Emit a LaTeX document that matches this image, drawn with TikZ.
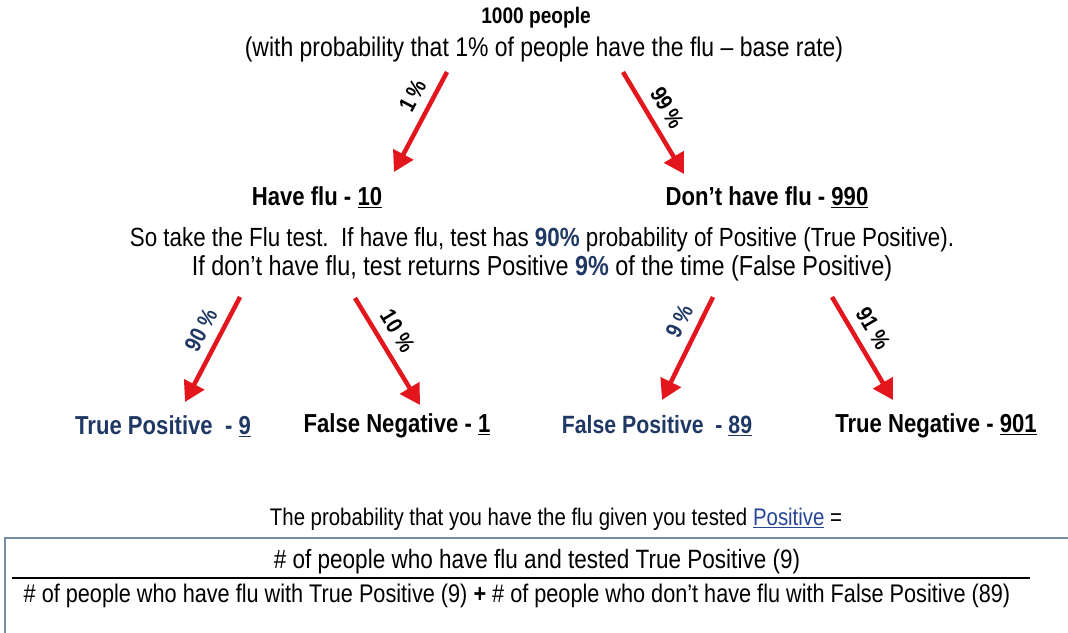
\documentclass[tikz,border=0pt]{standalone}
\usepackage{fontspec}
\setmainfont[FakeStretch=0.85]{Liberation Sans}
\usetikzlibrary{arrows.meta}
\definecolor{arrred}{RGB}{226,22,28}
\definecolor{navy}{RGB}{31,56,100}
\definecolor{linkblue}{RGB}{40,70,150}
\definecolor{boxedge}{RGB}{120,140,165}
\newcommand{\fs}[1]{\fontsize{#1}{#1}\selectfont}
\begin{document}
\begin{tikzpicture}[x=1pt,y=-1pt,
  txt/.style={inner sep=0pt, font=\fs{26}},
  head/.style={inner sep=0pt, font=\fs{26}\bfseries},
  flow/.style={draw=arrred, line width=4.5pt, -{Triangle[length=20pt,width=22pt]}},
  pct/.style={sloped, above=9pt, pos=0.4, inner sep=0pt, font=\fs{23}\bfseries},
]
\useasboundingbox[fill=white] (0,0) rectangle (1068,632);

\node[head, font=\fs{22.5}\bfseries] (top) at (536,18) {1000 people};
\node[txt, font=\fs{27}] (sub) at (544,50) {(with probability that 1\% of people have the flu – base rate)};

\node[head] (have) at (317,197) {Have flu - \underline{10}};
\node[head] (dont) at (767,197) {Don’t have flu - \underline{990}};

\node[txt, font=\fs{26.3}] (l1) at (542,240) {So take the Flu test.\ \ If have flu, test has \textcolor{navy}{\textbf{90\%}} probability of Positive (True Positive).};
\node[txt, font=\fs{27.5}] (l2) at (542,268) {If don’t have flu, test returns Positive \textcolor{navy}{\textbf{9\%}} of the time (False Positive)};

\node[head, text=navy] (tp) at (163,426) {True Positive\ \ - \underline{9}};
\node[head] (fn) at (397,426) {False Negative - \underline{1}};
\node[head, text=navy, font=\fs{25}\bfseries] (fp) at (657,426) {False Positive\ \ - \underline{89}};
\node[head] (tn) at (936,426) {True Negative - \underline{901}};

\coordinate (a1s) at (447,72);  \coordinate (a1e) at (394,172);
\coordinate (a2s) at (623,72);  \coordinate (a2e) at (684,174);
\coordinate (a3s) at (240,297); \coordinate (a3e) at (185,402);
\coordinate (a4s) at (355,298); \coordinate (a4e) at (420,405);
\coordinate (a5s) at (713,297); \coordinate (a5e) at (662,400);
\coordinate (a6s) at (832,297); \coordinate (a6e) at (893,400);

\draw[flow] (a1s) -- node[pct, pos=0.33] {1\,\%} (a1e);
\draw[flow] (a2s) -- node[pct, pos=0.45] {99\,\%} (a2e);
\draw[flow] (a3s) -- node[pct, text=navy] {90 \%} (a3e);
\draw[flow] (a4s) -- node[pct] {10 \%} (a4e);
\draw[flow] (a5s) -- node[pct, text=navy, pos=0.32] {9 \%} (a5e);
\draw[flow] (a6s) -- node[pct] {91 \%} (a6e);

\node[txt, font=\fs{24}] (prob) at (556,519) {The probability that you have the flu given you tested \textcolor{linkblue}{\underline{Positive}} =};

\draw[boxedge, line width=2pt] (5,538) rectangle (1085,645);
\node[txt, font=\fs{26.5}] (num) at (537,562) {\# of people who have flu and tested True Positive (9)};
\coordinate (fl) at (12,578); \coordinate (fr) at (1030,578);
\draw[line width=1.5pt] (fl) -- (fr);
\node[txt, font=\fs{25.5}] (den) at (517,596) {\# of people who have flu with True Positive (9) \textbf{+}\ \# of people who don’t have flu with False Positive (89)};
\end{tikzpicture}
\end{document}
